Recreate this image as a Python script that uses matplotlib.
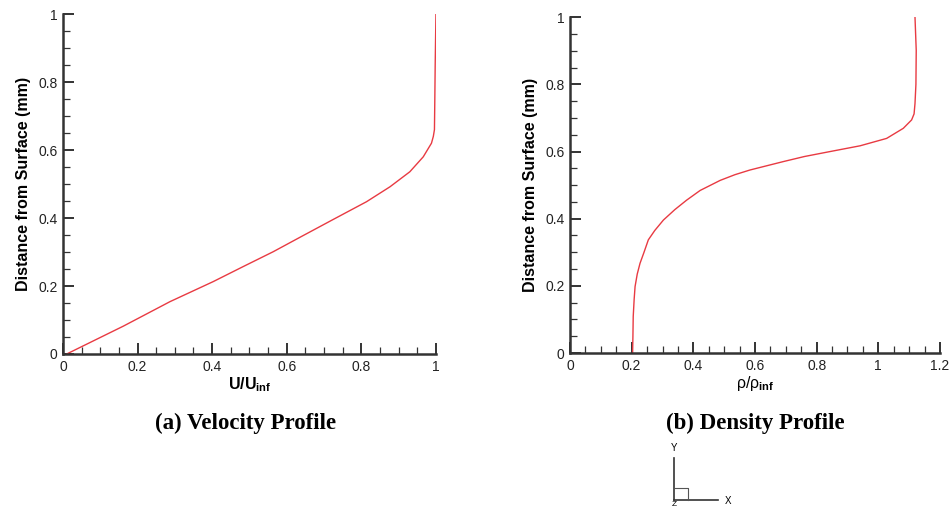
import matplotlib
matplotlib.use("Agg")
import matplotlib.pyplot as plt
from matplotlib.ticker import MultipleLocator

# velocity profile
u_ratio = [0.010, 0.162, 0.287, 0.403, 0.483, 0.564, 0.640, 0.725, 0.814,
           0.877, 0.930, 0.966, 0.988, 0.993, 0.996, 0.997, 0.998, 1.0]
u_dist = [0.0, 0.082, 0.154, 0.213, 0.257, 0.301, 0.346, 0.396, 0.448,
          0.492, 0.536, 0.580, 0.620, 0.640, 0.660, 0.750, 0.850, 1.0]

# density profile
rho_ratio = [0.203, 0.204, 0.205, 0.208, 0.211, 0.218, 0.227, 0.24, 0.254,
             0.275, 0.303, 0.34, 0.378, 0.422, 0.487, 0.535, 0.584, 0.692,
             0.760, 0.833, 0.941, 1.027, 1.081, 1.108, 1.116, 1.119, 1.122,
             1.123, 1.119]
rho_dist = [0.0, 0.05, 0.109, 0.16, 0.198, 0.235, 0.267, 0.30, 0.337,
            0.365, 0.396, 0.427, 0.455, 0.484, 0.514, 0.531, 0.545, 0.570,
            0.585, 0.598, 0.617, 0.639, 0.669, 0.694, 0.712, 0.743, 0.80,
            0.901, 1.0]

captions = ["(a) Velocity Profile", "(b) Density Profile"]

plt.rcParams["font.family"] = ["Liberation Sans", "DejaVu Sans"]
plt.rcParams["mathtext.fontset"] = "custom"
plt.rcParams["mathtext.rm"] = "Liberation Sans"
plt.rcParams["mathtext.it"] = "Liberation Sans"
plt.rcParams["mathtext.bf"] = "Liberation Sans:bold"

dark = "#222222"
fig = plt.figure(figsize=(9.51, 5.12), dpi=100)
ax1 = fig.add_axes([0.0662, 0.3086, 0.3922, 0.664])
ax2 = fig.add_axes([0.5994, 0.3105, 0.389, 0.656])

red = "#e83a42"
ax1.plot(u_ratio, u_dist, color=red, lw=1.0)
ax2.plot(rho_ratio, rho_dist, color=red, lw=1.0)

ax1.set_xlim(0, 1)
ax2.set_xlim(0, 1.2)

for ax in (ax1, ax2):
    ax.set_ylim(0, 1)
    ax.spines["top"].set_visible(False)
    ax.spines["right"].set_visible(False)
    for s in ("left", "bottom"):
        ax.spines[s].set_linewidth(1.8)
        ax.spines[s].set_color("#333333")
    ax.xaxis.set_major_locator(MultipleLocator(0.2))
    ax.xaxis.set_minor_locator(MultipleLocator(0.05))
    ax.yaxis.set_major_locator(MultipleLocator(0.2))
    ax.yaxis.set_minor_locator(MultipleLocator(0.05))
    ax.tick_params(which="major", direction="in", length=8, width=1.4,
                   labelsize=10, pad=4, color="#333333", labelcolor=dark)
    ax.tick_params(which="minor", direction="in", length=5, width=0.9,
                   color="#333333")
    ax.xaxis.set_major_formatter(lambda v, p: f"{v:g}")
    ax.yaxis.set_major_formatter(lambda v, p: f"{v:g}")
    ax.set_ylabel("Distance from Surface (mm)", fontsize=11.5,
                  fontweight="bold", labelpad=5, color="black")

ax1.set_xlabel(r"$\mathbf{U/U_{inf}}$", fontsize=11.5, labelpad=1)
ax2.set_xlabel(r"$\rho/\rho_{\mathbf{inf}}$", fontsize=11.5, labelpad=1)

fig.text(246 / 951, 1 - 423 / 512, captions[0], ha="center", va="center",
         fontsize=16.5, fontweight="bold", family="Liberation Serif")
fig.text(755 / 951, 1 - 423 / 512, captions[1], ha="center", va="center",
         fontsize=16.5, fontweight="bold", family="Liberation Serif")

# little axis triad
tri = fig.add_axes([0, 0, 1, 1], facecolor="none")
tri.set_xlim(0, 951)
tri.set_ylim(512, 0)
tri.axis("off")
tri.plot([674, 674], [458, 500], color="#333333", lw=1.2)
tri.plot([674, 718], [500, 500], color="#333333", lw=1.2)
tri.plot([674, 688, 688], [488, 488, 500], color="#555555", lw=0.8)
tri.text(674, 448, "Y", ha="center", va="center", fontsize=7)
tri.text(728, 501, "X", ha="center", va="center", fontsize=7)
tri.text(674, 505, "Z", ha="center", va="center", fontsize=6)

fig.savefig("out.png", dpi=100)
